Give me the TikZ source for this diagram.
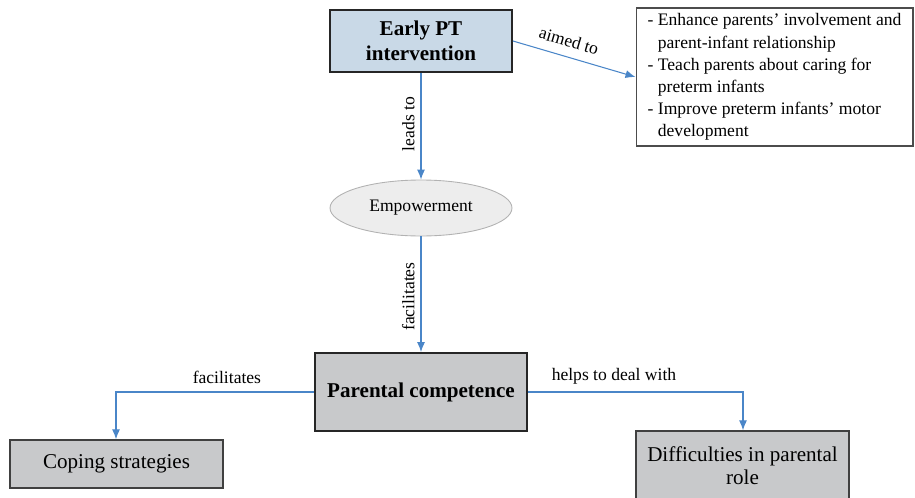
\documentclass[tikz,border=0pt]{standalone}
\usepackage{fontspec}
\setmainfont{Liberation Serif}
\usepackage{xcolor}
\usetikzlibrary{shapes, arrows.meta, positioning}

\definecolor{linkblue}{HTML}{4A86C8}
\definecolor{ptblue}{HTML}{C9D9E7}
\definecolor{boxgray}{HTML}{C8C9CB}
\definecolor{ovalgray}{HTML}{EDEDED}

\begin{document}
\begin{tikzpicture}[
  x=0.02cm, y=-0.02cm,
  >={Latex[length=2mm, width=1.6mm]},
  link/.style={draw=linkblue, line width=0.6pt, ->},
  label/.style={font=\fontsize{10}{12}\selectfont},
  mainbox/.style={rectangle, draw=black!85, line width=1.1pt, fill=boxgray, font=\fontsize{12}{14}\selectfont\bfseries, align=center},
  outcome/.style={rectangle, draw=black!75, line width=0.8pt, fill=boxgray, font=\fontsize{12}{13}\selectfont, align=center},
]

  \useasboundingbox (0,0) rectangle (915,497);

  \node[mainbox, fill=ptblue, minimum width=3.64cm, minimum height=1.24cm] (early) at (421,41) {Early PT\\intervention};

  \node[rectangle, draw=black!70, line width=0.6pt, fill=white, minimum width=5.54cm, minimum height=2.76cm, align=left, inner sep=3pt, font=\fontsize{10}{12.6}\selectfont] (aims) at (774.5,77) {%
    -\ Enhance parents’ involvement and\\
    \hphantom{-\ }parent-infant relationship\\
    -\ Teach parents about caring for\\
    \hphantom{-\ }preterm infants\\
    -\ Improve preterm infants’ motor\\
    \hphantom{-\ }development};

  \node[ellipse, draw=black!30, line width=0.5pt, fill=ovalgray, minimum width=3.64cm, minimum height=1.12cm, font=\fontsize{10}{12}\selectfont] (empower) at (421,208) {Empowerment};

  \node[mainbox, minimum width=4.24cm, minimum height=1.56cm] (competence) at (421,392) {Parental competence};

  \node[outcome, minimum width=4.26cm, minimum height=0.96cm] (coping) at (116.5,464) {Coping strategies};

  \node[outcome, minimum width=4.26cm, minimum height=1.4cm] (difficult) at (742.5,466) {Difficulties in parental\\role};

  \coordinate (leftbend) at (116,392);
  \coordinate (rightbend) at (743,392);

  \draw[link] (early.east) -- node[label, above=2pt, sloped, pos=0.42] {aimed to} (aims.west);
  \draw[link] (early) -- node[label, above, sloped, rotate=180, pos=0.48] {leads to} (empower);
  \draw[link] (empower) -- node[label, above, sloped, rotate=180, pos=0.52] {facilitates} (competence);
  \draw[link] (competence.west) -- node[label, above=1pt, pos=0.44] {facilitates} (leftbend) -- (coping.north -| leftbend);
  \draw[link] (competence.east) -- node[label, above=1pt, pos=0.4] {helps to deal with} (rightbend) -- (difficult.north -| rightbend);
\end{tikzpicture}
\end{document}
